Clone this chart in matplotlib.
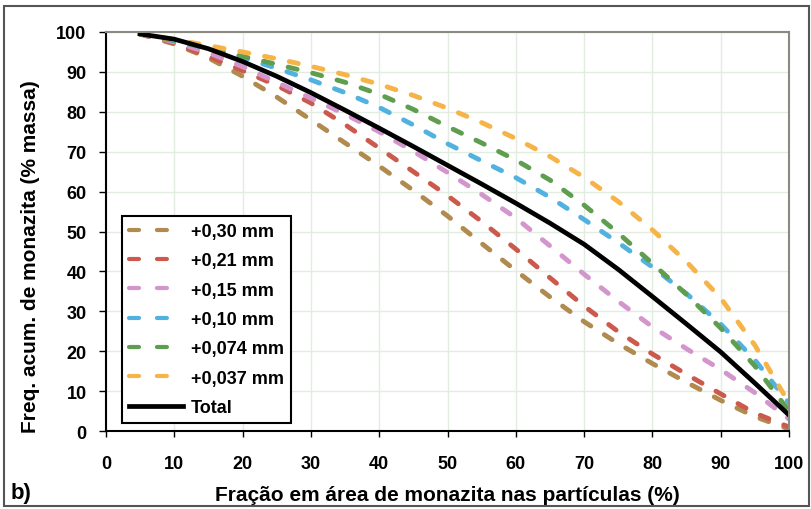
import matplotlib
matplotlib.use("Agg")
import matplotlib.pyplot as plt
from matplotlib.patches import Rectangle

plt.rcParams['font.family'] = ['Liberation Sans Narrow', 'Liberation Sans', 'DejaVu Sans']
plt.rcParams['font.weight'] = 'bold'

x = [5, 10, 15, 20, 25, 30, 35, 40, 45, 50, 55, 60, 65, 70, 75, 80, 85, 90, 95, 100]

s030 = [99.5, 97.0, 93.5, 88.9, 83.7, 78.0, 72.2, 66.4, 60.3, 53.9, 47.0, 40.2, 33.6, 27.4, 21.9, 16.9, 12.2, 7.7, 3.6, 0.5]
s021 = [99.5, 97.2, 93.9, 90.3, 86.6, 82.2, 76.8, 70.9, 65.0, 59.0, 52.5, 45.6, 38.4, 31.3, 24.9, 19.3, 14.2, 9.3, 4.5, 1]
s015 = [99.5, 97.5, 94.8, 91.3, 87.4, 83.4, 79.4, 75.0, 70.1, 64.8, 59.3, 53.4, 46.4, 39.3, 32.5, 26.1, 20.6, 15.4, 9.6, 3]
s010 = [99.5, 97.8, 95.9, 93.6, 90.9, 88.0, 84.8, 81.1, 76.7, 72.0, 67.7, 63.5, 58.6, 53.0, 47.2, 41.1, 34.4, 26.8, 17.8, 7]
s0074 = [99.5, 97.9, 95.9, 93.9, 91.9, 89.8, 87.4, 84.4, 80.6, 76.3, 72.2, 67.9, 62.9, 56.6, 49.6, 42.0, 34.2, 25.8, 16.3, 5]
s0037 = [99.5, 98.1, 96.6, 95.0, 93.3, 91.4, 89.3, 86.9, 84.1, 80.9, 77.3, 73.3, 68.8, 63.6, 57.5, 50.4, 42.4, 33.3, 21.5, 7]
total = [99.5, 98.2, 95.8, 92.6, 88.9, 84.8, 80.4, 75.9, 71.3, 66.6, 61.9, 57.1, 52.1, 46.8, 40.5, 33.7, 26.8, 19.8, 12, 4]

labels = ['+0,30 mm', '+0,21 mm', '+0,15 mm', '+0,10 mm', '+0,074 mm', '+0,037 mm', 'Total']
series = [s030, s021, s015, s010, s0074, s0037]
colors = ['#b08a4e', '#cc5a4c', '#d395cc', '#52b2df', '#5f9e4e', '#f6b448']

xticks = list(range(0, 101, 10))
yticks = list(range(0, 101, 10))

fig = plt.figure(figsize=(8.11, 5.10), dpi=100)
ax = fig.add_axes([0.1307, 0.1529, 0.8422, 0.7824])

for vals, c, lab in zip(series, colors, labels[:6]):
    ax.plot(x, vals, color=c, lw=3.5, linestyle=(0, (1.9, 3.3)),
            dash_capstyle='round', label=lab)
ax.plot(x, total, color='black', lw=3.4, label=labels[6])

ax.set_xlim(0, 100)
ax.set_ylim(0, 100)
ax.set_xticks(xticks)
ax.set_yticks(yticks)
ax.grid(True, color='#e3ece0', lw=1)
ax.set_axisbelow(True)
ax.tick_params(axis='x', labelsize=13, direction='out', length=4, width=1, pad=13)
ax.tick_params(axis='y', labelsize=13, direction='out', length=5, width=1, pad=9)
for lbl in ax.get_xticklabels() + ax.get_yticklabels():
    lbl.set_fontweight('bold')
for s in ['top', 'right']:
    ax.spines[s].set_color('#8a8a82')
    ax.spines[s].set_linewidth(1.5)
for s in ['left', 'bottom']:
    ax.spines[s].set_color('black')
    ax.spines[s].set_linewidth(1.5)

ax.set_xlabel('Fração em área de monazita nas partículas (%)', fontsize=15, fontweight='bold', va='center')
ax.xaxis.set_label_coords(0.5, -0.158)
ax.set_ylabel('Freq. acum. de monazita (% massa)', fontsize=15, fontweight='bold', va='center')
ax.yaxis.set_label_coords(-0.111, 0.44)

leg = ax.legend(loc='upper left', bbox_to_anchor=(0.0234, 0.539),
                handlelength=3.0, handletextpad=0.4, labelspacing=0.68,
                borderpad=0.4, borderaxespad=0, fancybox=False, framealpha=1,
                edgecolor='black', prop={'weight': 'bold', 'size': 13})
leg.get_frame().set_linewidth(1.5)
for hl in leg.get_lines()[:6]:
    hl.set_linewidth(3.0)
    hl.set_linestyle((0, (2.4, 4.3)))
    hl.set_dash_capstyle('round')

fig.text(0.013, 0.033, 'b)', fontsize=16, fontweight='bold', va='center')

fig.patches.append(Rectangle((0.005, 0.006), 0.992, 0.98, transform=fig.transFigure,
                             fill=False, edgecolor='#555555', lw=1.5))

fig.savefig('out.png', dpi=100)
